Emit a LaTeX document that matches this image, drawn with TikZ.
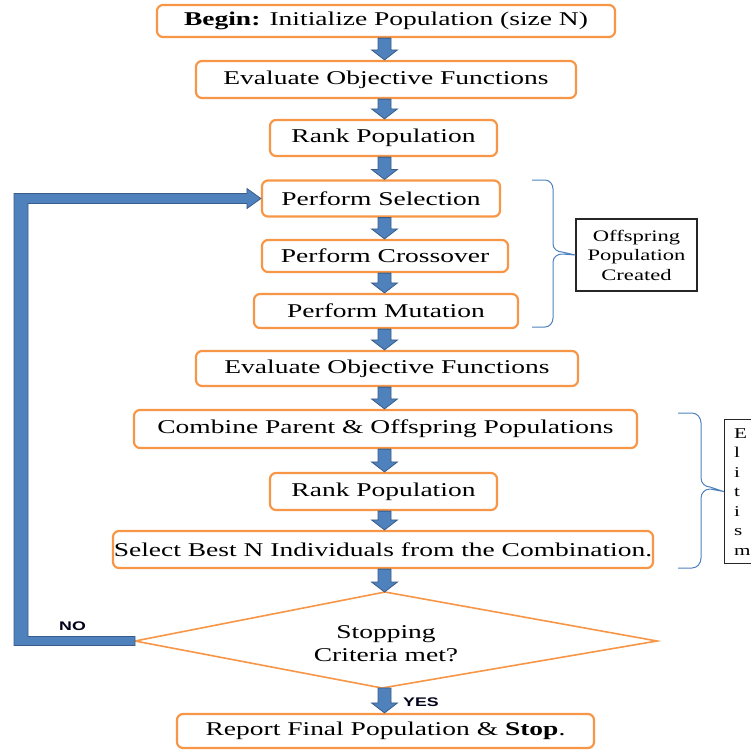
\documentclass[tikz,border=0pt]{standalone}
\usepackage{fontspec}
\setmainfont{Liberation Serif}[FakeStretch=1.41]
\newfontfamily\lblfont{Liberation Sans}[FakeStretch=1.42]
\usetikzlibrary{calc}
\definecolor{boxor}{HTML}{F79646}
\definecolor{arrfill}{HTML}{4F81BD}
\definecolor{arrbord}{HTML}{385D8A}
\tikzset{
  flowbox/.style={draw=boxor, line width=2.2pt, fill=white, rounded corners=6pt, inner sep=0pt,
    font=\fontsize{19.5pt}{23pt}\selectfont},
  blockarr/.style={fill=arrfill, draw=arrbord, line width=0.8pt, line join=miter},
  sidebox/.style={draw=black!85, line width=1.2pt, fill=white, inner sep=0pt,
    font=\fontsize{16pt}{19.5pt}\selectfont},
  bracepath/.style={draw=arrfill, line width=1pt},
  yesno/.style={font=\lblfont\bfseries\fontsize{12.5pt}{15pt}\selectfont, text=black!90!blue}
}
\newcommand\vblock[2]{\path[blockarr] let \p1=(#1), \p2=(#2) in
  (378pt,\y1) -- (378pt,\y2+10pt) -- (371.5pt,\y2+10pt) -- (384.5pt,\y2) --
  (397.5pt,\y2+10pt) -- (391pt,\y2+10pt) -- (391pt,\y1) -- cycle;}
\begin{document}
\begin{tikzpicture}[x=1pt,y=-1pt]
\useasboundingbox (0,0) rectangle (751,750);
% boxes
\node[flowbox, minimum width=458pt, minimum height=32pt] (begin) at (386,21) {\textbf{Begin:} Initialize Population (size N)};
\node[flowbox, minimum width=380pt, minimum height=37pt] (eval1) at (386,79.5) {Evaluate Objective Functions};
\node[flowbox, minimum width=227pt, minimum height=36pt] (rank1) at (383.5,138) {Rank Population};
\node[flowbox, minimum width=238pt, minimum height=36pt] (sel) at (381,198.5) {Perform Selection};
\node[flowbox, minimum width=246pt, minimum height=32pt] (cross) at (385,256) {Perform Crossover};
\node[flowbox, minimum width=264pt, minimum height=34pt] (mut) at (386,311) {Perform Mutation};
\node[flowbox, minimum width=382pt, minimum height=35pt] (eval2) at (387,368.5) {Evaluate Objective Functions};
\node[flowbox, minimum width=503pt, minimum height=38pt] (comb) at (385.5,429) {Combine Parent \& Offspring Populations};
\node[flowbox, minimum width=227pt, minimum height=37pt] (rank2) at (383.5,491.5) {Rank Population};
\node[flowbox, minimum width=540pt, minimum height=37pt] (best) at (383,549.5) {Select Best N Individuals from the Combination.};
\node[flowbox, minimum width=417pt, minimum height=34pt] (report) at (385.5,731) {Report Final Population \& \textbf{Stop}.};
% decision diamond
\coordinate (dT) at (385,592);
\coordinate (dL) at (135,641);
\coordinate (dR) at (657,641);
\coordinate (dB) at (382,688);
\draw[draw=boxor, line width=1.6pt, fill=white, line join=miter] (dT) -- (dR) -- (dB) -- (dL) -- cycle;
\node[align=center, font=\fontsize{19.5pt}{23pt}\selectfont] (dtext) at (386,644) {Stopping\\Criteria met?};
% arrows
\vblock{begin.south}{eval1.north}
\vblock{eval1.south}{rank1.north}
\vblock{rank1.south}{sel.north}
\vblock{sel.south}{cross.north}
\vblock{cross.south}{mut.north}
\vblock{mut.south}{eval2.north}
\vblock{eval2.south}{comb.north}
\vblock{comb.south}{rank2.north}
\vblock{rank2.south}{best.north}
\vblock{best.south}{dT}
\vblock{dB}{report.north}
% loop back
\path[blockarr] let \p1=(dL), \p2=(sel.west) in
  (\x1,\y1+4.5pt) -- (28pt,\y1+4.5pt) -- (28pt,\y2-5pt) -- (\x2-14pt,\y2-5pt) --
  (\x2-14pt,\y2-10pt) -- (\x2,\y2) -- (\x2-14pt,\y2+10pt) -- (\x2-14pt,\y2+5pt) --
  (14pt,\y2+5pt) -- (14pt,\y1-4.5pt) -- (\x1,\y1-4.5pt) -- cycle;
\node[yesno] (no) at (72.5,626) {NO};
\node[yesno] (yes) at (421,702) {YES};
% side boxes and braces
\node[sidebox, minimum width=121pt, minimum height=72pt, align=center] (off) at (636.5,255) {Offspring\\Population\\Created};
\coordinate (b1a) at (532,180);
\coordinate (b1b) at (532,327);
\draw[bracepath] (b1a) -- (545,180) to[out=0,in=90] (553,189) -- (553,244)
  to[out=-90,in=180] (562,252) -- (off.west) -- (562,254) to[out=180,in=90] (553,262)
  -- (553,318) to[out=-90,in=0] (545,327) -- (b1b);
\coordinate (b2a) at (678,413);
\coordinate (b2b) at (678,568);
\begin{scope}
\clip (0,0) rectangle (751,750);
\node[sidebox, anchor=north west, minimum width=45pt, minimum height=144pt, text width=28pt,
  align=left, inner xsep=9.5pt, font=\fontsize{15pt}{19.5pt}\selectfont] (elit) at (724,419) {E\\l\\i\\t\\i\\s\\m};
\end{scope}
\draw[bracepath] (b2a) -- (692,413) to[out=0,in=90] (701,423) -- (701,478)
  to[out=-90,in=180] (710,487) -- (elit.west) -- (710,489) to[out=180,in=90] (701,498)
  -- (701,558) to[out=-90,in=0] (692,568) -- (b2b);
\end{tikzpicture}
\end{document}
